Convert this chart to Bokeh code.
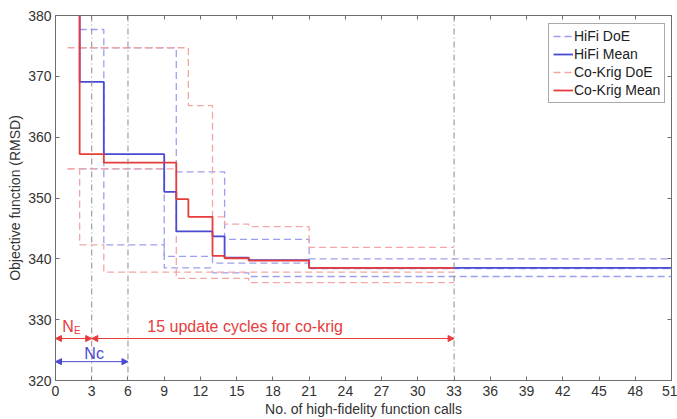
from bokeh.plotting import figure
from bokeh.models import (Arrow, NormalHead, Span, Label, Legend, LegendItem,
                          FixedTicker, LinearAxis, Range1d)
from bokeh.embed import file_html
from bokeh.resources import INLINE

# ---------------- data ----------------
x_ticks = list(range(0, 52, 3))
y_ticks = [320, 330, 340, 350, 360, 370, 380]

# HiFi DoE runs (best-so-far, step after)
hifi_doe_a_x = [2, 4, 9, 13, 16, 51]
hifi_doe_a_y = [377.7, 342.3, 338.5, 337.7, 337.1, 337.1]
hifi_doe_b_x = [2, 10, 14, 21, 51]
hifi_doe_b_y = [374.7, 354.3, 343.2, 340.0, 340.0]
hifi_doe_c_x = [2, 9, 13, 21, 51]
hifi_doe_c_y = [354.8, 340.4, 339.3, 338.4, 338.4]

# HiFi mean
hifi_mean_x = [2, 2, 4, 9, 10, 13, 14, 16, 21, 51]
hifi_mean_y = [395, 369.1, 357.2, 351.0, 344.5, 343.7, 340.2, 339.8, 338.5, 338.5]

# Co-Krig DoE runs
ck_doe_a_x = [1, 11, 13, 14, 16, 21, 33]
ck_doe_a_y = [374.7, 365.2, 346.9, 345.7, 345.3, 341.9, 341.9]
ck_doe_b_x = [1, 10, 16, 33]
ck_doe_b_y = [354.8, 336.8, 336.1, 336.1]
ck_doe_c_x = [1, 2, 4, 33]
ck_doe_c_y = [354.8, 342.3, 337.8, 337.8]

# Co-Krig mean
ck_mean_x = [2, 2, 4, 10, 11, 13, 14, 16, 21, 33]
ck_mean_y = [395, 357.2, 355.8, 349.8, 346.9, 340.5, 340.1, 339.7, 338.5, 338.5]

# reference vertical lines
vlines_x = [3, 6, 33]

# annotation arrows: (x_start, x_end, y)
ne_arrow = (0, 3, 326.9)
cycles_arrow = (3, 33, 326.9)
nc_arrow = (0, 6, 323.1)

# ---------------- styles ----------------
FONT = "Liberation Sans"
BLUE = "#4a4ad4"
RED = "#e63c3c"
LBLUE = "#9e9ef0"
LRED = "#f4a6a6"
GRAY = "#8a8a8a"
TXT = "#333333"
AX = "#6e6e6e"

p = figure(width=677, height=419, x_range=Range1d(0, 51), y_range=Range1d(320, 380),
           output_backend="svg", toolbar_location=None,
           min_border_left=55, min_border_right=6, min_border_top=15, min_border_bottom=39)
p.grid.visible = False
p.outline_line_color = AX
p.background_fill_color = "white"
p.border_fill_color = "white"

for ax in (p.xaxis[0], p.yaxis[0]):
    ax.major_tick_in = 4
    ax.major_tick_out = 0
    ax.minor_tick_line_color = None
    ax.axis_line_color = AX
    ax.major_tick_line_color = AX
    ax.major_label_text_font = FONT
    ax.major_label_text_font_size = "14px"
    ax.major_label_text_color = TXT
    ax.axis_label_text_font = FONT
    ax.axis_label_text_font_size = "14px"
    ax.axis_label_text_font_style = "normal"
    ax.axis_label_text_color = TXT

p.xaxis.major_label_standoff = 5
p.xaxis.axis_label_standoff = 2
p.yaxis.major_label_standoff = 4
p.yaxis.axis_label_standoff = 2

p.xaxis.ticker = FixedTicker(ticks=x_ticks)
p.yaxis.ticker = FixedTicker(ticks=y_ticks)
p.xaxis.axis_label = "No. of high-fidelity function calls"
p.yaxis.axis_label = "Objective function (RMSD)"

# top / right tick marks (box style), no labels
for loc, ticks in (("above", x_ticks), ("right", y_ticks)):
    a = LinearAxis(ticker=FixedTicker(ticks=ticks), major_tick_in=4, major_tick_out=0,
                   minor_tick_line_color=None, major_label_text_color=None,
                   major_label_text_font_size="1px", major_label_standoff=0,
                   axis_line_color=AX, major_tick_line_color=AX)
    p.add_layout(a, loc)

# vertical dash-dot lines
for vx in vlines_x:
    p.add_layout(Span(location=vx, dimension="height", line_color=GRAY,
                      line_dash="6 3 1 3", line_width=1))

# DoE runs
hd = []
for xs, ys in ((hifi_doe_a_x, hifi_doe_a_y), (hifi_doe_b_x, hifi_doe_b_y), (hifi_doe_c_x, hifi_doe_c_y)):
    hd.append(p.step(xs, ys, mode="after", line_color=LBLUE, line_dash="7 4", line_width=1.3))
cd = []
for xs, ys in ((ck_doe_a_x, ck_doe_a_y), (ck_doe_b_x, ck_doe_b_y), (ck_doe_c_x, ck_doe_c_y)):
    cd.append(p.step(xs, ys, mode="after", line_color=LRED, line_dash="7 4", line_width=1.3))

hm = p.step(hifi_mean_x, hifi_mean_y, mode="after", line_color=BLUE, line_width=1.8)
cm = p.step(ck_mean_x, ck_mean_y, mode="after", line_color=RED, line_width=1.8)

# arrows
for (xs, xe, yy), col in ((ne_arrow, RED), (cycles_arrow, RED), (nc_arrow, BLUE)):
    p.add_layout(Arrow(x_start=xs, y_start=yy, x_end=xe, y_end=yy, line_color=col, line_width=1,
                       start=NormalHead(size=6, fill_color=col, line_color=col),
                       end=NormalHead(size=6, fill_color=col, line_color=col)))

p.add_layout(Label(x=1.04, y=328.9, text="N", text_color=RED, text_font=FONT,
                   text_font_size="16px", text_align="center", text_baseline="middle"))
p.add_layout(Label(x=1.8, y=328.3, text="E", text_color=RED, text_font=FONT,
                   text_font_size="10px", text_align="center", text_baseline="middle"))
p.add_layout(Label(x=15.7, y=328.9, text="15 update cycles for co-krig", text_color=RED,
                   text_font=FONT, text_font_size="16px", text_align="center",
                   text_baseline="middle"))
p.add_layout(Label(x=3.2, y=324.4, text="Nc", text_color=BLUE, text_font=FONT,
                   text_font_size="16px", text_align="center", text_baseline="middle"))

legend = Legend(items=[LegendItem(label="HiFi DoE", renderers=[hd[0]]),
                       LegendItem(label="HiFi Mean", renderers=[hm]),
                       LegendItem(label="Co-Krig DoE", renderers=[cd[0]]),
                       LegendItem(label="Co-Krig Mean", renderers=[cm])],
                location=(493, 277))
legend.label_text_font = FONT
legend.label_text_font_size = "14px"
legend.label_text_color = "#222222"
legend.border_line_color = "#555555"
legend.glyph_width = 20
legend.glyph_height = 16
legend.label_standoff = 1
legend.spacing = 2
legend.padding = 4
legend.margin = 0
legend.label_height = 16
p.add_layout(legend)

open("out.html", "w").write(file_html(p, INLINE))
